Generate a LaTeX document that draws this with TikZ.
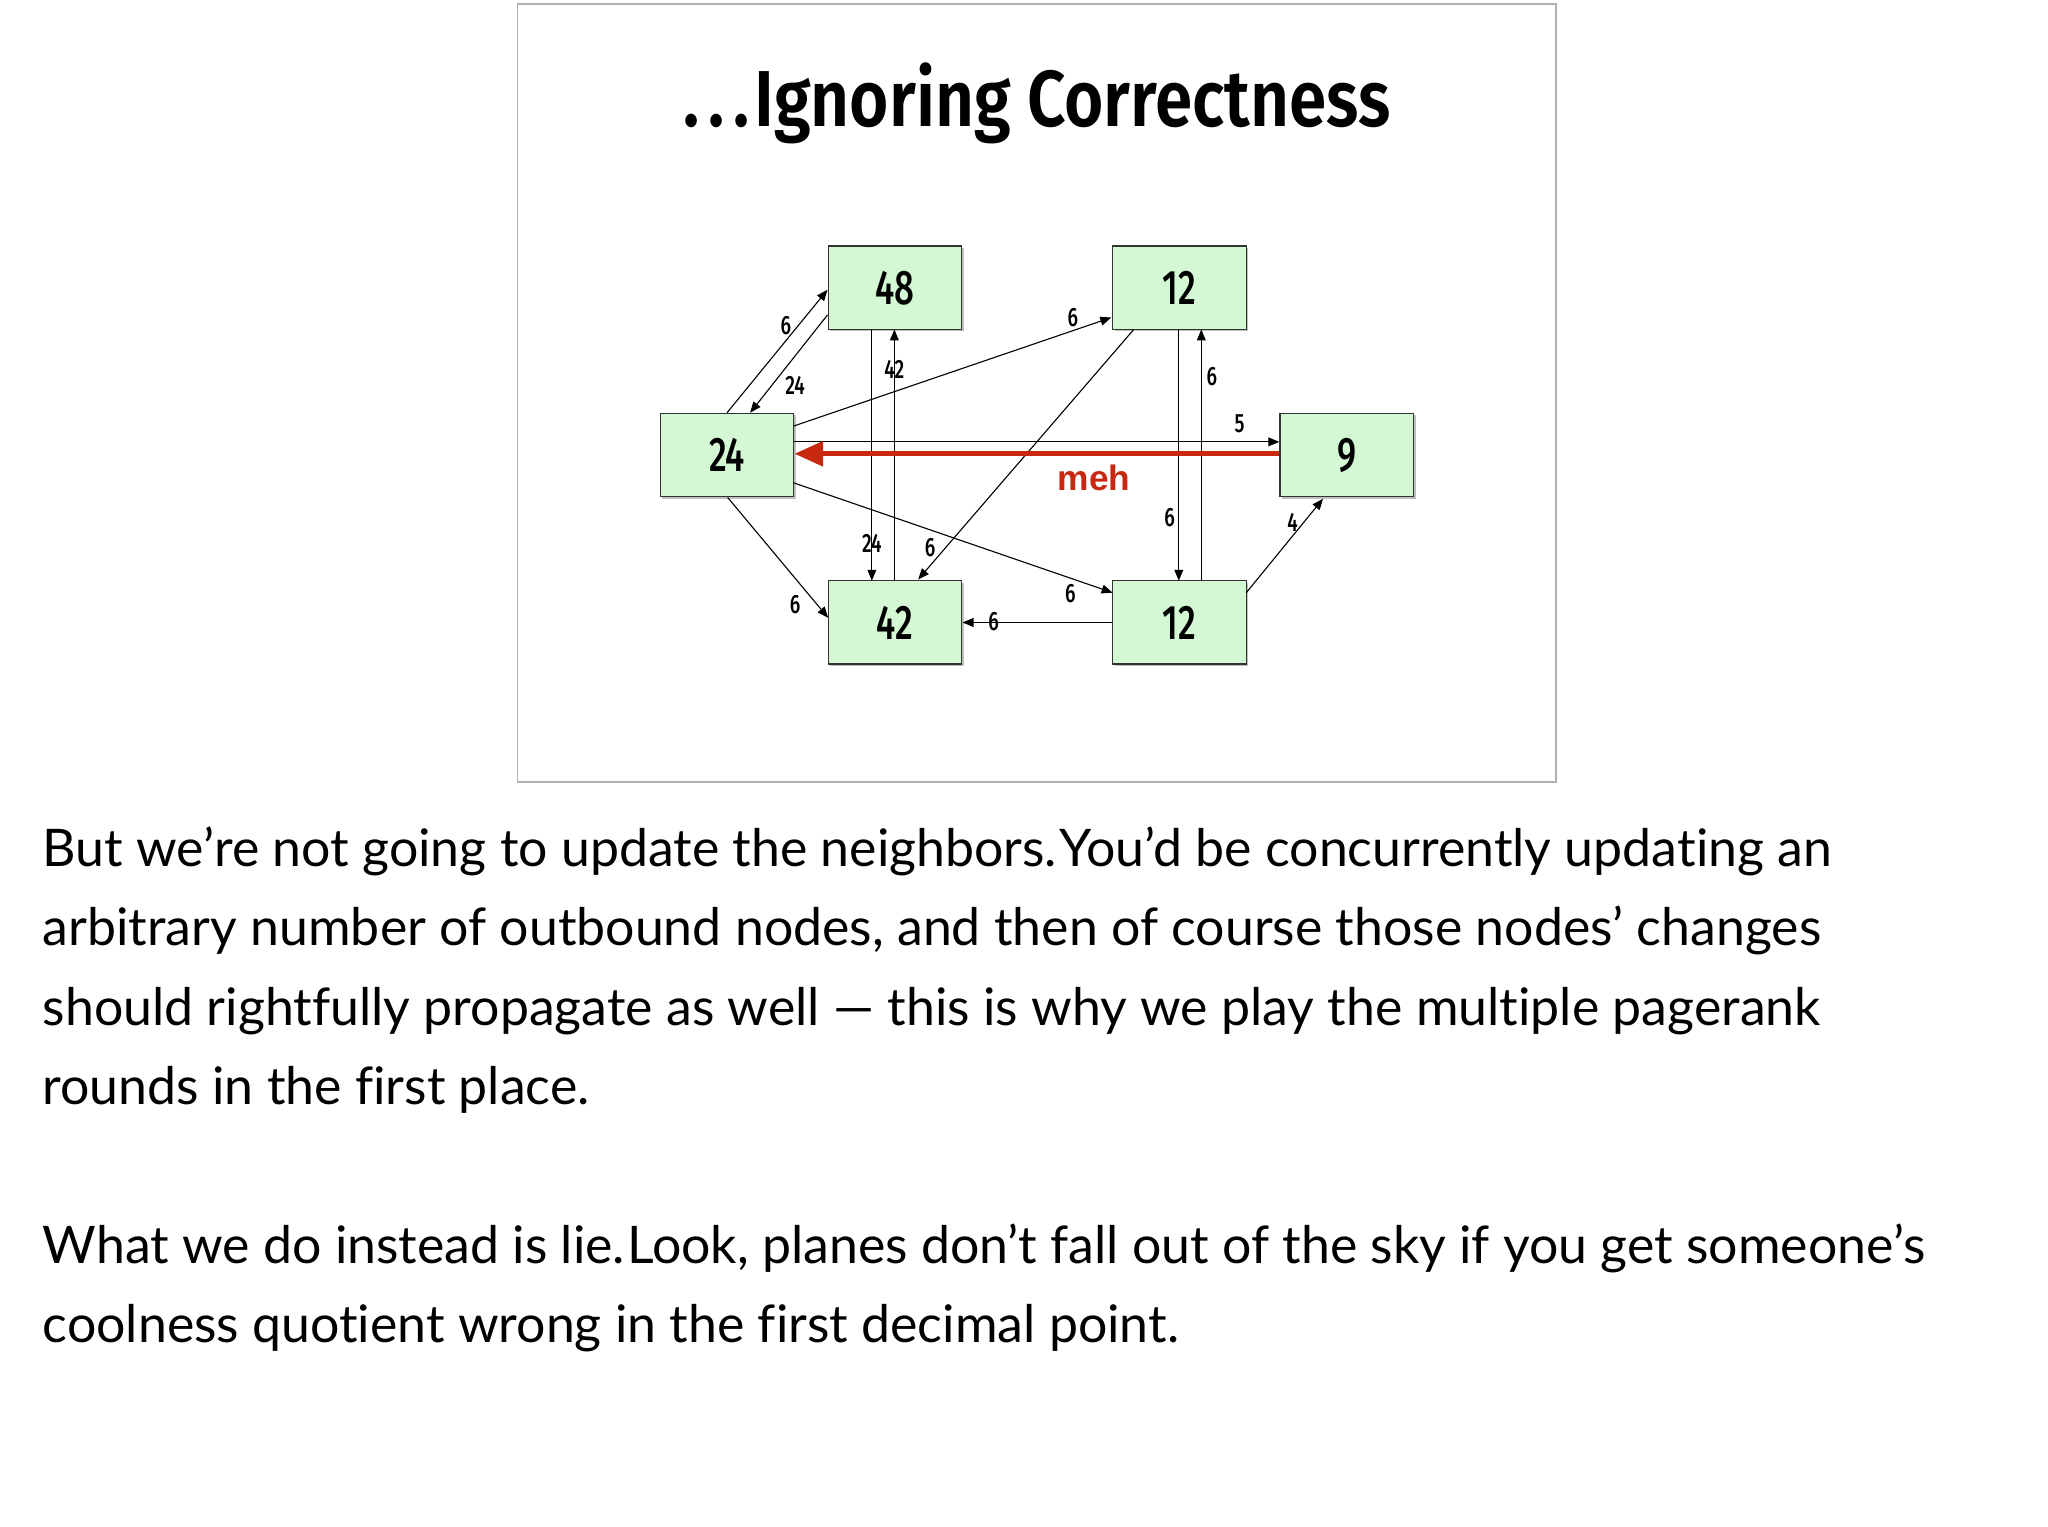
\documentclass[tikz,border=0pt]{standalone}
\usepackage{fontspec}
\setmainfont{Lato}[Ligatures={NoCommon,NoDiscretionary}]
\newfontfamily\cond[FakeStretch=0.72]{Fira Sans Medium}
\newfontfamily\condb[FakeStretch=0.85]{Fira Sans SemiBold}
\newfontfamily\arial{Liberation Sans}
\usetikzlibrary{arrows.meta}
\begin{document}
\begin{tikzpicture}[x=0.6pt,y=-0.6pt,
  box/.style={draw=black!80,line width=0.6pt,fill={rgb,255:red,212;green,247;blue,212},minimum width=60.6pt,minimum height=37.8pt,inner sep=0pt,font=\cond\fontsize{22}{22}\selectfont},
  ed/.style={-{Triangle[length=5pt,width=4pt]},line width=0.5pt},
  lb/.style={font=\cond\fontsize{12}{12}\selectfont,inner sep=0pt},
  body/.style={anchor=base west,inner sep=0pt,font=\fontsize{23.5}{28}\selectfont}]
\useasboundingbox[fill=white] (0,0) rectangle (1548,1154);
\draw[black!30,line width=0.6pt] (391,3) rectangle (1176,591);
\node[font=\condb\fontsize{36}{36}\selectfont] (title) at (784,78) {.\hspace{4pt}.\hspace{4pt}.\hspace{2pt}Ignoring Correctness};
\foreach \n/\x/\y/\t in {a/676.5/217.5/48, b/891.5/217.5/12, c/549.5/344/24, d/1018/344/9, e/676.5/470.5/42, f/891.5/470.5/12}{
  \fill[black!25] (\x+1.5-50.5,\y+1.5-31.5) rectangle (\x+1.5+50.5,\y+1.5+31.5);
  \node[box] (\n) at (\x,\y) {\t};
}
% edges
\draw[ed] (c.north) -- (a.west|-0,219);
\draw[ed] (a.west|-0,238) -- (567,312);
\draw[ed] (659,249) -- (659,439);
\draw[ed] (676,439) -- (676,249);
\draw[ed] (600,322) -- (840,240);
\draw[ed] (857,249) -- (694,438);
\draw[ed] (891,249) -- (891,439);
\draw[ed] (908,439) -- (908,249);
\draw[ed] (600,334) -- (967,334);
\draw[ed] (600,365) -- (841,448);
\draw[ed] (550,376) -- (626,467);
\draw[ed] (f.west) -- (e.east);
\draw[ed] (942,448) -- (1000,377);
\draw[-{Triangle[length=13pt,width=11pt]},line width=2.4pt,draw={rgb,255:red,200;green,40;blue,16}] (d.west|-0,343) -- (c.east|-0,343);
\node[font=\arial\bfseries\fontsize{16}{16}\selectfont,text={rgb,255:red,200;green,40;blue,16}] (meh) at (827,361) {meh};
% labels
\node[lb] (l1) at (594,246) {6};
\node[lb] (l2) at (601,291) {24};
\node[lb] (l3) at (659,411) {24};
\node[lb] (l4) at (676,279) {42};
\node[lb] (l5) at (811,240) {6};
\node[lb] (l6) at (703,414) {6};
\node[lb] (l7) at (884,391) {6};
\node[lb] (l8) at (916,285) {6};
\node[lb] (l9) at (937,320) {5};
\node[lb] (l10) at (809,449) {6};
\node[lb] (l11) at (601,457) {6};
\node[lb] (l12) at (751,470) {6};
\node[lb] (l13) at (977,395) {4};
% body
\node[body] (p1) at (32,655) {But we’re not going to update the neighbors.\hspace{1pt}You’d be concurrently updating an};
\node[body] (p2) at (32,715) {arbitrary number of outbound nodes, and then of course those nodes’ changes};
\node[body] (p3) at (32,775) {should rightfully propagate as well — this is why we play the multiple pagerank};
\node[body] (p4) at (32,835) {rounds in the first place.};
\node[body] (p5) at (32,955) {What we do instead is lie.\hspace{1pt}Look, planes don’t fall out of the sky if you get someone’s};
\node[body] (p6) at (32,1015) {coolness quotient wrong in the first decimal point.};
\end{tikzpicture}
\end{document}
